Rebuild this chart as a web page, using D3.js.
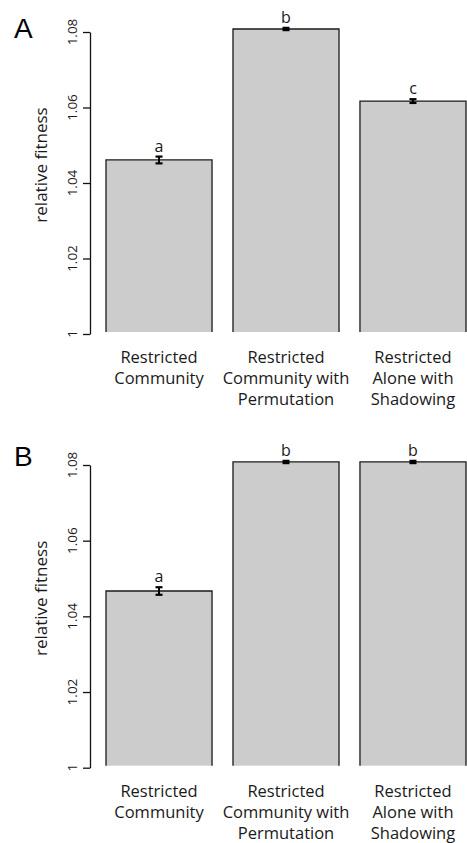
<!DOCTYPE html>
<html>
<head>
<meta charset="utf-8">
<script src="https://cdn.jsdelivr.net/npm/d3@7"></script>
<style>
  html, body { margin: 0; padding: 0; background: #fff; }
  svg { display: block; }
  text { font-family: "Open Sans", sans-serif; fill: #1a1a1a; }
</style>
</head>
<body>
<svg id="chart" width="467" height="843"></svg>
<script>
// ---- data ----
const categories = [
  ["Restricted", "Community"],
  ["Restricted", "Community with", "Permutation"],
  ["Restricted", "Alone with", "Shadowing"]
];
const panelLabels = ["A", "B"];
const valuesA = [1.0461, 1.0808, 1.0617];
const errorsA = [0.0009, 0.0003, 0.0005];
const lettersA = ["a", "b", "c"];
const valuesB = [1.0467, 1.0808, 1.0808];
const errorsB = [0.0010, 0.0003, 0.0003];
const lettersB = ["a", "b", "b"];
const tickValues = [1, 1.02, 1.04, 1.06, 1.08];
const tickLabels = ["1", "1.02", "1.04", "1.06", "1.08"];
const yDomain = [1, 1.08];
const yTitle = "relative fitness";

const svg = d3.select("#chart");

const x = d3.scaleBand()
  .domain(d3.range(categories.length))
  .range([106, 466])
  .paddingInner(0.165)
  .paddingOuter(0);

const panels = [
  { label: panelLabels[0], values: valuesA, errors: errorsA, letters: lettersA, top: 32, bottom: 334, labelY: 38 },
  { label: panelLabels[1], values: valuesB, errors: errorsB, letters: lettersB, top: 465, bottom: 767.7, labelY: 466 }
];

panels.forEach(p => {
  const g = svg.append("g");
  const y = d3.scaleLinear().domain(yDomain).range([p.bottom, p.top]);

  // panel letter
  g.append("text")
    .attr("x", 14).attr("y", p.labelY)
    .style("font-family", "'Liberation Sans', Arial, sans-serif")
    .style("font-size", "28px")
    .style("fill", "#000")
    .text(p.label);

  // axis
  const axis = d3.axisLeft(y).tickValues(tickValues).tickSize(7).tickSizeOuter(0).tickFormat("");
  const ag = g.append("g").attr("transform", "translate(90,0)").call(axis);
  ag.select(".domain").attr("stroke", "#111").attr("stroke-width", 1.3);
  ag.selectAll(".tick line").attr("stroke", "#111").attr("stroke-width", 1.3);

  // tick labels, rotated
  g.selectAll(".tlab").data(tickValues).enter().append("text")
    .attr("transform", (d) => `translate(77,${y(d)}) rotate(-90)`)
    .attr("text-anchor", "middle")
    .style("font-size", "13.5px")
    .text((d, i) => tickLabels[i]);

  // y title
  g.append("text")
    .attr("transform", `translate(47,${(p.top + p.bottom) / 2 - 18}) rotate(-90)`)
    .attr("text-anchor", "middle")
    .style("font-size", "17px")
    .text(yTitle);

  const base = y(yDomain[0]) - 2;

  // bars (fill)
  g.selectAll(".bar").data(p.values).enter().append("rect")
    .attr("x", (d, i) => x(i))
    .attr("width", x.bandwidth())
    .attr("y", d => y(d))
    .attr("height", d => base - y(d))
    .attr("fill", "#cccccc");

  // bar outlines: left, top, right
  g.selectAll(".outline").data(p.values).enter().append("path")
    .attr("d", (d, i) => {
      const x0 = x(i), x1 = x(i) + x.bandwidth(), yt = y(d);
      return `M${x0},${base}V${yt}H${x1}V${base}`;
    })
    .attr("fill", "none")
    .attr("stroke", "#1a1a1a")
    .attr("stroke-width", 1.3);

  // error bars
  const cap = 3.5;
  p.values.forEach((v, i) => {
    const cx = x(i) + x.bandwidth() / 2;
    const e = p.errors[i];
    const y1 = y(v + e), y2 = y(v - e);
    g.append("line").attr("x1", cx).attr("x2", cx).attr("y1", y1).attr("y2", y2)
      .attr("stroke", "#000").attr("stroke-width", 2);
    [y1, y2].forEach(yy => {
      g.append("line").attr("x1", cx - cap).attr("x2", cx + cap).attr("y1", yy).attr("y2", yy)
        .attr("stroke", "#000").attr("stroke-width", 2.2);
    });
    g.append("text")
      .attr("x", cx).attr("y", y1 - 5)
      .attr("text-anchor", "middle")
      .style("font-size", "16px")
      .text(p.letters[i]);
  });

  // category labels
  categories.forEach((lines, i) => {
    const cx = x(i) + x.bandwidth() / 2;
    const t = g.append("text").attr("text-anchor", "middle").style("font-size", "16.5px");
    lines.forEach((ln, j) => {
      t.append("tspan").attr("x", cx).attr("y", y(yDomain[0]) + 29 + j * 21).text(ln);
    });
  });
});
</script>
</body>
</html>
